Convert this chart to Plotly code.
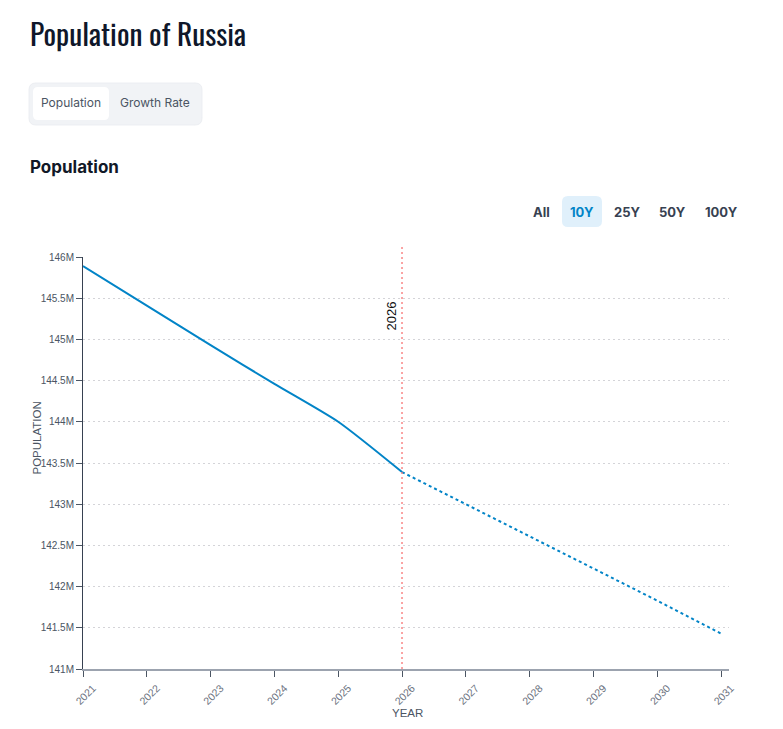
import plotly.graph_objects as go

# ---- data ----
hist_years = [2021, 2022, 2023, 2024, 2025, 2026]
hist_pop = [145.89e6, 145.41e6, 144.93e6, 144.46e6, 144.00e6, 143.39e6]
proj_years = [2026, 2027, 2028, 2029, 2030, 2031]
proj_pop = [143.39e6, 143.00e6, 142.62e6, 142.23e6, 141.83e6, 141.43e6]
x_ticks = [2021, 2022, 2023, 2024, 2025, 2026, 2027, 2028, 2029, 2030, 2031]
marker_year = 2026
range_buttons = ["All", "10Y", "25Y", "50Y", "100Y"]
tab_labels = ["Population", "Growth Rate"]

# page has an 8px body margin; coordinates below are in page (screenshot) pixels
OFF = 8
PAGE_W, PAGE_H = 783, 729
W, H = PAGE_W - 2 * OFF, PAGE_H - 2 * OFF
L, R, T, B = 83, 729, 257, 669


def px(x):
    return (x - L) / (R - L)


def py(y):
    return (B - y) / (B - T)


def rounded_rect(x0, y0, x1, y1, r):
    # x0,y0 top-left ; x1,y1 bottom-right in page pixels -> paper path
    X = lambda v: f"{px(v):.5f}"
    Y = lambda v: f"{py(v):.5f}"
    return (f"M {X(x0 + r)},{Y(y0)} L {X(x1 - r)},{Y(y0)} Q {X(x1)},{Y(y0)} {X(x1)},{Y(y0 + r)} "
            f"L {X(x1)},{Y(y1 - r)} Q {X(x1)},{Y(y1)} {X(x1 - r)},{Y(y1)} "
            f"L {X(x0 + r)},{Y(y1)} Q {X(x0)},{Y(y1)} {X(x0)},{Y(y1 - r)} "
            f"L {X(x0)},{Y(y0 + r)} Q {X(x0)},{Y(y0)} {X(x0 + r)},{Y(y0)} Z")


BLUE = "#0284c7"
AX_FONT = "Liberation Sans, Arial"
TITLE_FONT = ("Oswald, 'Roboto Condensed', 'Open Sans Condensed', 'Noto Sans Condensed', "
              "'Liberation Sans Narrow', 'DejaVu Sans Condensed', Roboto")
fig = go.Figure()
fig.add_trace(go.Scatter(x=hist_years, y=hist_pop, mode="lines",
                         line=dict(color=BLUE, width=2, shape="spline", smoothing=0.6),
                         hoverinfo="skip", showlegend=False))
fig.add_trace(go.Scatter(x=proj_years, y=proj_pop, mode="lines",
                         line=dict(color=BLUE, width=2, dash="dot"),
                         hoverinfo="skip", showlegend=False))

shapes = []
annotations = []

# vertical marker line
shapes.append(dict(type="line", xref="x", yref="paper", x0=marker_year, x1=marker_year,
                   y0=0, y1=py(246), line=dict(color="rgba(248,113,113,0.85)", width=1.5, dash="2px,3px")))
annotations.append(dict(text=str(marker_year), xref="x", yref="paper", x=marker_year, y=py(316),
                        xanchor="right", yanchor="middle", xshift=-2, textangle=-90, showarrow=False,
                        font=dict(family=AX_FONT, size=13, color="#111111")))

# title
annotations.append(dict(text="Population of Russia", xref="paper", yref="paper", x=px(28), y=py(33),
                        xanchor="left", yanchor="middle", showarrow=False,
                        font=dict(family=TITLE_FONT, size=29.5, color="#0f172a")))

# tab group
shapes.append(dict(type="path", xref="paper", yref="paper", path=rounded_rect(29, 83, 202, 125, 7),
                   fillcolor="#f1f3f6", line=dict(color="#eceef2", width=1), layer="below"))
shapes.append(dict(type="path", xref="paper", yref="paper", path=rounded_rect(33, 87, 109, 120, 5),
                   fillcolor="#ffffff", line=dict(width=0), layer="below"))
tab_x = [71, 155]
for lab, xx in zip(tab_labels, tab_x):
    annotations.append(dict(text=lab, xref="paper", yref="paper", x=px(xx), y=py(103),
                            xanchor="center", yanchor="middle", showarrow=False,
                            font=dict(family="Inter, Noto Sans", size=12, color="#4b5563")))

# section title
annotations.append(dict(text="<b>Population</b>", xref="paper", yref="paper", x=px(28), y=py(167),
                        xanchor="left", yanchor="middle", showarrow=False,
                        font=dict(family="Inter, Noto Sans", size=17, color="#111827")))

# range buttons
shapes.append(dict(type="path", xref="paper", yref="paper", path=rounded_rect(562, 196, 602, 227, 6),
                   fillcolor="#e0f0fb", line=dict(width=0), layer="below"))
btn_x = [541, 582, 627, 672, 721]
for lab, xx in zip(range_buttons, btn_x):
    col = BLUE if lab == "10Y" else "#374151"
    annotations.append(dict(text="<b>" + lab + "</b>", xref="paper", yref="paper", x=px(xx), y=py(212),
                            xanchor="center", yanchor="middle", showarrow=False,
                            font=dict(family="Inter, Noto Sans", size=13, color=col)))

# axis titles
annotations.append(dict(text="POPULATION", xref="paper", yref="paper", x=px(36.5), y=py(438),
                        xanchor="center", yanchor="middle", textangle=-90, showarrow=False,
                        font=dict(family=AX_FONT, size=11.5, color="#4b5563")))
annotations.append(dict(text="YEAR", xref="paper", yref="paper", x=px(407), y=py(713),
                        xanchor="center", yanchor="middle", showarrow=False,
                        font=dict(family=AX_FONT, size=11.5, color="#4b5563")))

fig.update_layout(
    width=W, height=H,
    margin=dict(l=L - OFF, r=PAGE_W - OFF - R, t=T - OFF, b=PAGE_H - OFF - B, pad=0, autoexpand=False),
    paper_bgcolor="white", plot_bgcolor="white",
    shapes=shapes, annotations=annotations,
    showlegend=False,
    xaxis=dict(range=[2021, 2031.125], tickmode="array", tickvals=x_ticks,
               ticktext=[str(v) for v in x_ticks], tickangle=-45, automargin=False,
               ticklabelshift=10, ticklabelstandoff=1,
               ticks="outside", ticklen=6, tickcolor="#4b5563",
               showgrid=False, zeroline=False,
               showline=True, linecolor="#9ca3af", linewidth=2,
               tickfont=dict(family=AX_FONT, size=10.5, color="#6b7280")),
    yaxis=dict(range=[141e6, 146e6], dtick=0.5e6, tick0=141e6, tickformat="~s", automargin=False,
               ticks="outside", ticklen=6, tickcolor="#4b5563",
               showgrid=True, gridcolor="#d4d4d8", griddash="2px,3px", gridwidth=1,
               zeroline=False, showline=True, linecolor="#374151", linewidth=1,
               tickfont=dict(family=AX_FONT, size=10, color="#4b5563")),
)

fig.write_html("out.html")
